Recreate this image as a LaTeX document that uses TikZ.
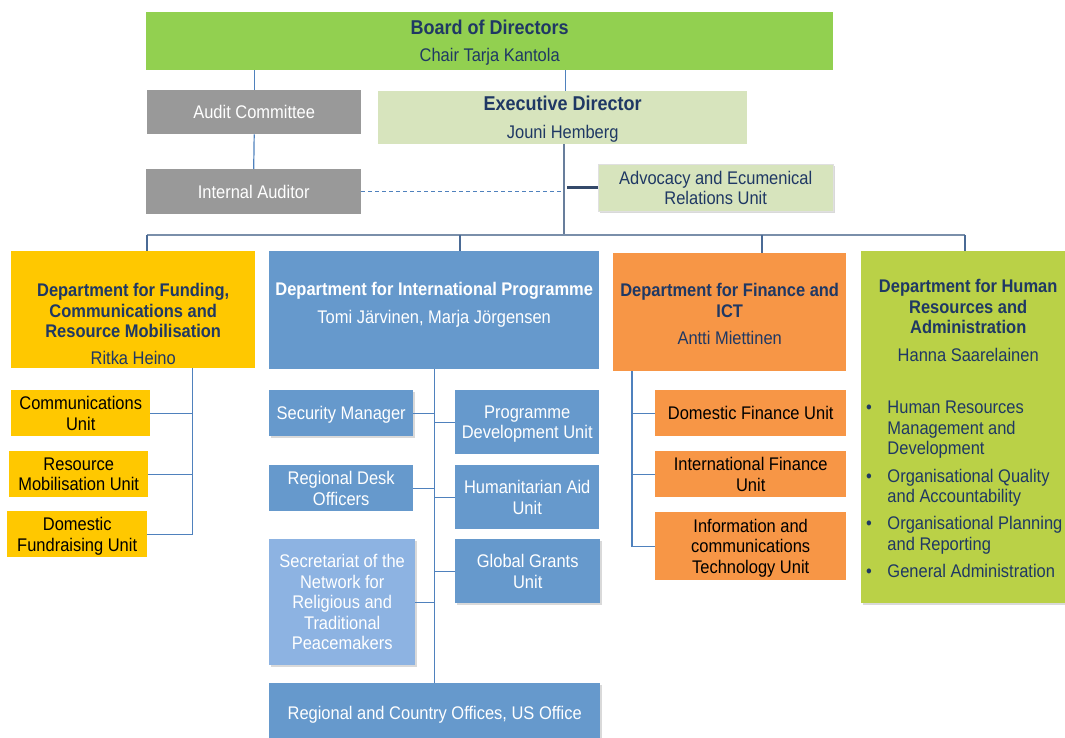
\documentclass[tikz,border=0pt]{standalone}
\usepackage{fontspec}
\setmainfont{Liberation Sans}[FakeStretch=0.9]
\usetikzlibrary{positioning, shadows}

\definecolor{boardgreen}{HTML}{92D050}
\definecolor{execgreen}{HTML}{D7E4BD}
\definecolor{auditgray}{HTML}{999999}
\definecolor{fundgold}{HTML}{FFC800}
\definecolor{progblue}{HTML}{6699CC}
\definecolor{peaceblue}{HTML}{8DB3E2}
\definecolor{finorange}{HTML}{F79646}
\definecolor{hrgreen}{HTML}{BAD147}
\definecolor{navy}{HTML}{1F3864}
\definecolor{linkblue}{HTML}{4F81BD}
\definecolor{busgray}{HTML}{7A8FAA}
\definecolor{dropblue}{HTML}{4A6A95}
\definecolor{stubnavy}{HTML}{34496A}

\newcommand{\orgfont}{\fontsize{18.3}{20.5}\selectfont}
\tikzstyle{unitbox} = [rectangle, inner sep=2pt, align=center, anchor=north west, text depth=0pt, font=\orgfont]
\tikzstyle{depthead} = [inner sep=0pt, align=center, anchor=north, text=navy, font=\orgfont\bfseries]
\tikzstyle{boxshadow} = [drop shadow={shadow xshift=1.5pt, shadow yshift=-2pt, opacity=0.3}]
\tikzstyle{linkline} = [draw=linkblue, line width=1.2pt]
\tikzstyle{busline} = [draw=busgray, line width=2.4pt]
\tikzstyle{dropline} = [draw=dropblue, line width=2pt]
\tikzstyle{execline} = [draw=busgray!80!navy, line width=2pt]

\begin{document}
\begin{tikzpicture}[x=1pt, y=-1pt]
	\useasboundingbox (0,0) rectangle (1065,738);
	\clip (0,0) rectangle (1065,738);

	% board and executive level
	\node[unitbox, fill=boardgreen, text=navy, minimum width=687pt, minimum height=58pt] (board) at (146,12)
		{{\fontsize{20}{22}\selectfont\bfseries Board of Directors}\\[6.5pt] Chair Tarja Kantola};
	\node[unitbox, fill=auditgray, text=white, minimum width=214pt, minimum height=44pt] (audit) at (147,90) {Audit Committee};
	\node[unitbox, fill=auditgray, text=white, minimum width=215pt, minimum height=45pt] (intaud) at (146,169) {Internal Auditor};
	\node[unitbox, fill=execgreen, text=navy, minimum width=369pt, minimum height=53pt] (exec) at (378,91)
		{{\fontsize{20}{22}\selectfont\bfseries Executive Director}\\[7.5pt] Jouni Hemberg};
	\node[unitbox, boxshadow, fill=execgreen, draw=black!12, text=navy, minimum width=235pt, minimum height=47pt] (adv) at (598,164)
		{Advocacy and Ecumenical\\Relations Unit};

	% departments
	\node[unitbox, fill=fundgold, minimum width=244pt, minimum height=117pt] (fund) at (11,251) {};
	\node[unitbox, fill=progblue, minimum width=330pt, minimum height=118pt] (intl) at (269,251) {};
	\node[unitbox, fill=finorange, minimum width=233pt, minimum height=118pt] (fin) at (613,253) {};
	\node[unitbox, boxshadow, fill=hrgreen, minimum width=214pt, minimum height=352pt] (hr) at (861,251) {};

	\node[depthead, below=32.5pt of fund.north] (fundtitle)
		{Department for Funding,\\Communications and\\Resource Mobilisation\\[6.5pt]\mdseries Ritka Heino};
	\node[depthead, text=white, below=31.5pt of intl.north] (intltitle)
		{Department for International Programme\\[7.5pt]\mdseries Tomi Järvinen, Marja Jörgensen};
	\node[depthead, below=30.5pt of fin.north] (fintitle)
		{Department for Finance and\\ICT\\[6.5pt]\mdseries Antti Miettinen};
	\node[depthead, below=28.5pt of hr.north] (hrtitle)
		{Department for Human\\Resources and\\Administration\\[7.5pt]\mdseries Hanna Saarelainen};

	\node[anchor=north west, inner sep=0pt, text=navy, font=\orgfont] (hrlist) at (866,399) {%
		\begin{tabular}{@{}l@{\hspace{15.5pt}}l@{}}
			\textbullet & Human Resources\\
			& Management and\\
			& Development\\[7pt]
			\textbullet & Organisational Quality\\
			& and Accountability\\[6.5pt]
			\textbullet & Organisational Planning\\
			& and Reporting\\[7pt]
			\textbullet & General Administration
		\end{tabular}};

	% funding units
	\node[unitbox, fill=fundgold, minimum width=139pt, minimum height=46pt] (comm) at (11,390) {Communications\\Unit};
	\node[unitbox, fill=fundgold, minimum width=139pt, minimum height=46pt] (resmob) at (9,451) {Resource\\Mobilisation Unit};
	\node[unitbox, fill=fundgold, minimum width=140pt, minimum height=46pt] (domfund) at (7,511) {Domestic\\Fundraising Unit};

	% programme units
	\node[unitbox, boxshadow, fill=progblue, text=white, minimum width=144pt, minimum height=46pt] (secman) at (269,390) {Security Manager};
	\node[unitbox, fill=progblue, text=white, minimum width=144pt, minimum height=64pt] (progdev) at (455,390) {Programme\\Development Unit};
	\node[unitbox, fill=progblue, text=white, minimum width=144pt, minimum height=46pt] (regdesk) at (269,465) {Regional Desk\\Officers};
	\node[unitbox, fill=progblue, text=white, minimum width=144pt, minimum height=64pt] (humaid) at (455,465) {Humanitarian Aid\\Unit};
	\node[unitbox, boxshadow, fill=peaceblue, text=white, minimum width=146pt, minimum height=126pt] (peace) at (269,539)
		{Secretariat of the\\Network for\\Religious and\\Traditional\\Peacemakers};
	\node[unitbox, boxshadow, fill=progblue, text=white, minimum width=145pt, minimum height=64pt] (grants) at (455,539) {Global Grants\\Unit};
	\node[unitbox, boxshadow, fill=progblue, text=white, minimum width=331pt, minimum height=60pt] (regoff) at (269,683)
		{Regional and Country Offices, US Office};

	% finance units
	\node[unitbox, fill=finorange, minimum width=191pt, minimum height=46pt] (domfin) at (655,390) {Domestic Finance Unit};
	\node[unitbox, fill=finorange, minimum width=191pt, minimum height=46pt] (intfin) at (655,451) {International Finance\\Unit};
	\node[unitbox, fill=finorange, minimum width=191pt, minimum height=68pt] (ict) at (655,512)
		{Information and\\communications\\Technology Unit};

	% top connectors
	\draw[linkline] (audit.north) -- (audit.north |- board.south);
	\draw[linkline] (audit.south) -- (intaud.north);
	\draw[linkline] ([xshift=3pt]exec.north) -- ([xshift=3pt]exec.north |- board.south);

	\coordinate (busL) at (147,235);
	\coordinate (busI) at (460,235);
	\coordinate (busF) at (762,235);
	\coordinate (busR) at (965,235);
	\draw[execline] ([xshift=1.5pt]exec.south) -- ([xshift=1.5pt]exec.south |- busL);
	\draw[linkline, line width=1pt, dash pattern=on 4pt off 3pt] (intaud.east) -- ([xshift=0.5pt]exec.south |- intaud.east);
	\draw[draw=stubnavy, line width=3pt] (adv.west) -- ([xshift=-31pt]adv.west);

	\draw[busline] (busL) -- (busR);
	\draw[dropline] (busL) -- (fund.north -| busL);
	\draw[dropline] (busI) -- (intl.north -| busI);
	\draw[dropline] (busF) -- (fin.north -| busF);
	\draw[dropline] (busR) -- (hr.north -| busR);

	% funding branch
	\coordinate (fundspine) at ([xshift=59pt]fund.south);
	\draw[linkline] (fundspine) |- (comm.east);
	\draw[linkline] (fundspine) |- (resmob.east);
	\draw[linkline] (fundspine) |- (domfund.east);

	% programme branch
	\draw[linkline] (intl.south) -- (intl.south |- regoff.north);
	\foreach \u in {secman, regdesk, peace}
		\draw[linkline] (\u.east) -- (\u.east -| intl.south);
	\foreach \u in {progdev, humaid, grants}
		\draw[linkline] (\u.west) -- (\u.west -| intl.south);

	% finance branch
	\coordinate (finspine) at ([xshift=19pt]fin.south west);
	\draw[linkline] (finspine) |- (domfin.west);
	\draw[linkline] (finspine) |- (intfin.west);
	\draw[linkline] (finspine) |- (ict.west);
\end{tikzpicture}
\end{document}
